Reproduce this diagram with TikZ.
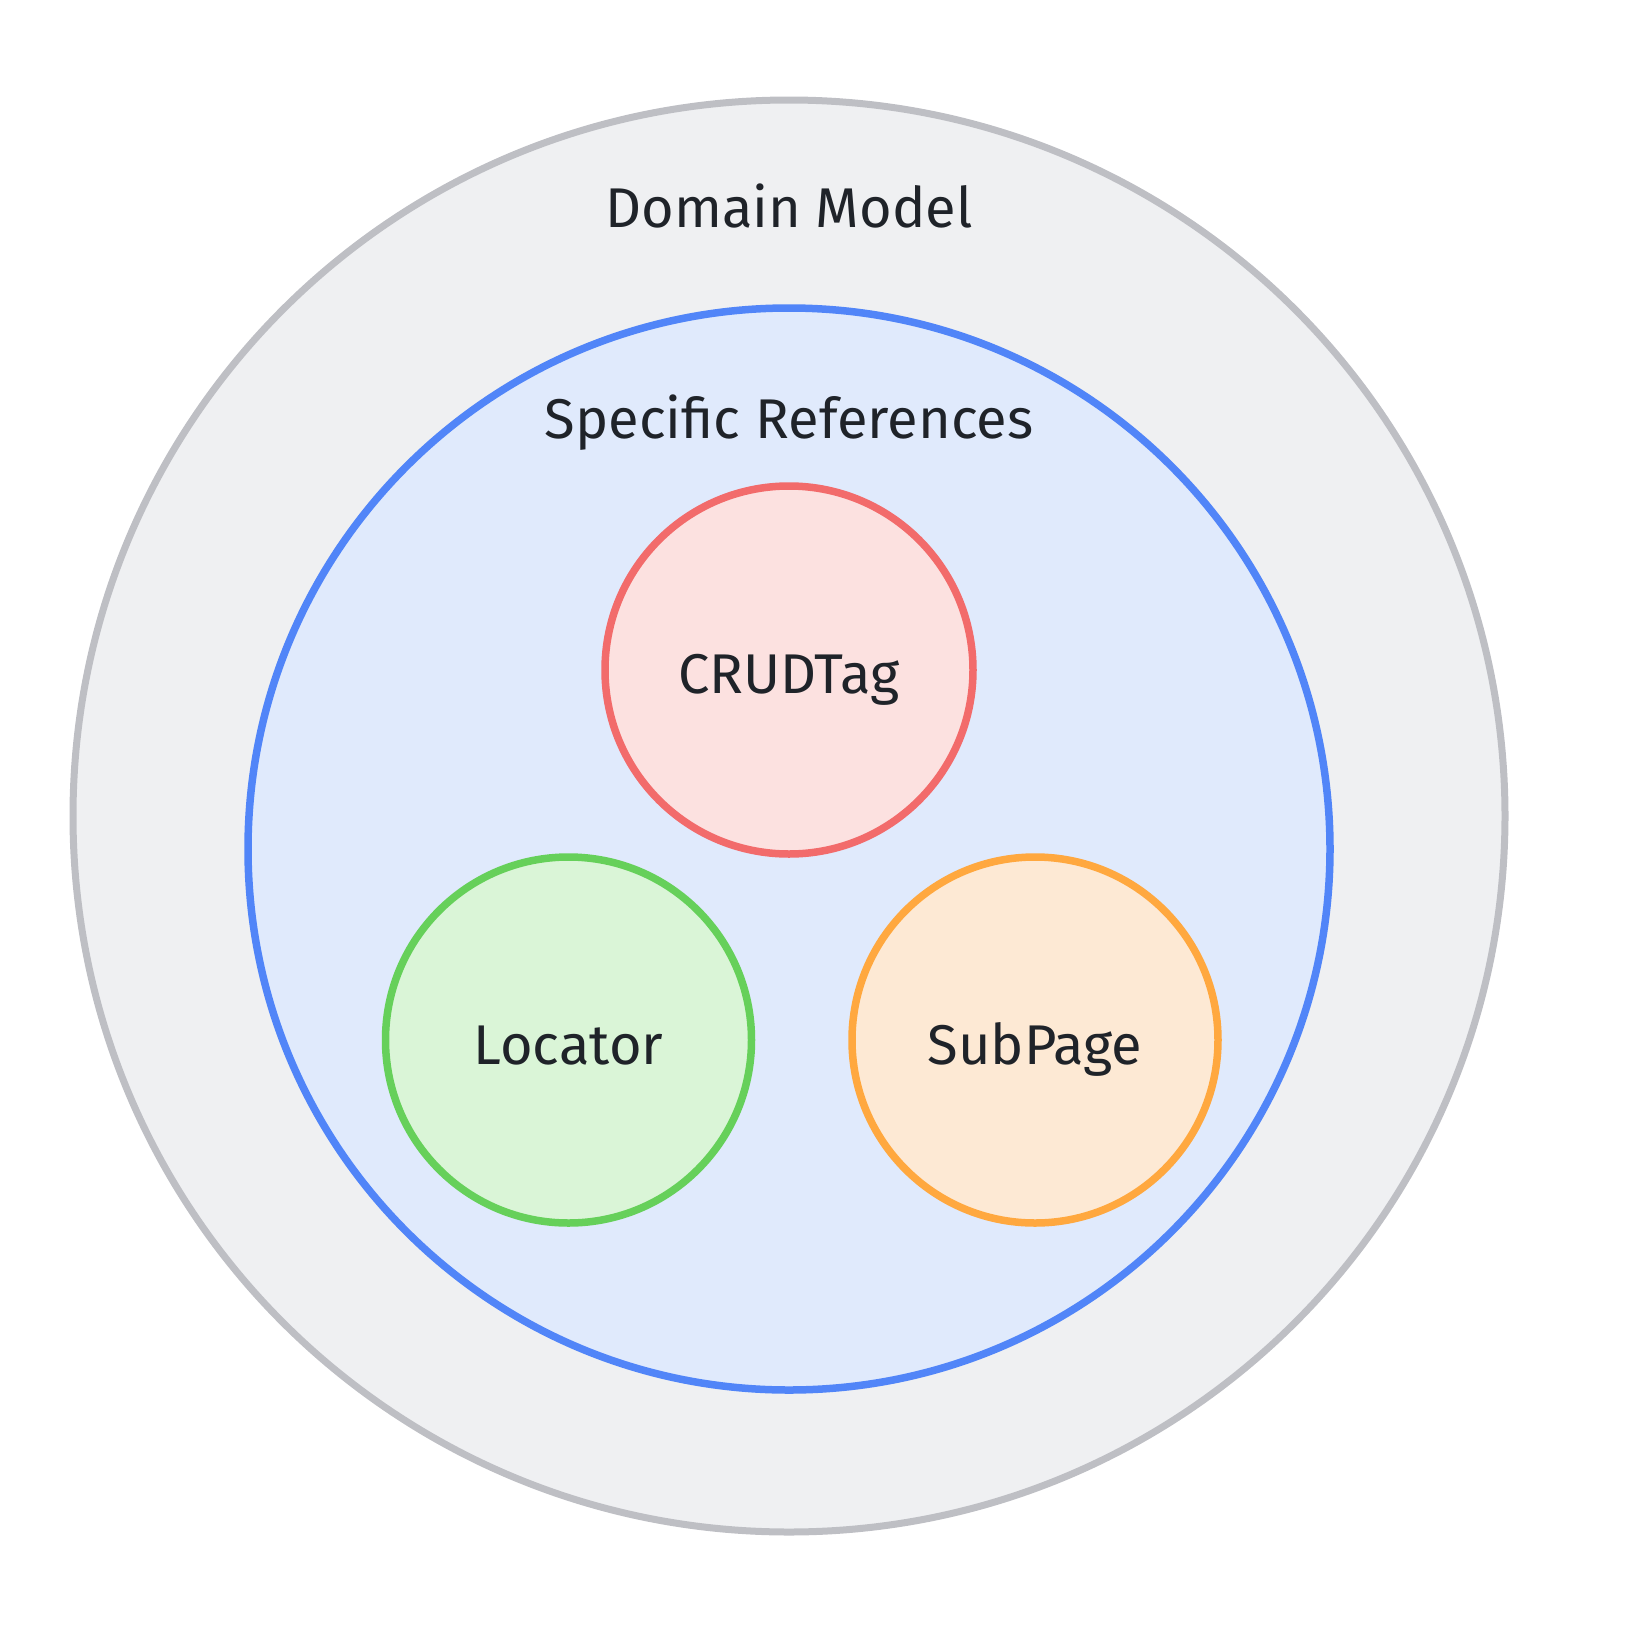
\documentclass[tikz,border=0pt]{standalone}
\usepackage{fontspec}
\setmainfont{Fira Sans}
\definecolor{txt}{HTML}{1F2329}
\definecolor{outerfill}{HTML}{EFF0F2}
\definecolor{outerdraw}{HTML}{BEBFC4}
\definecolor{bluefill}{HTML}{E0EAFC}
\definecolor{bluedraw}{HTML}{5185F8}
\definecolor{redfill}{HTML}{FCE1E0}
\definecolor{reddraw}{HTML}{F26B6B}
\definecolor{greenfill}{HTML}{DAF5D7}
\definecolor{greendraw}{HTML}{66D05A}
\definecolor{orangefill}{HTML}{FDE9D4}
\definecolor{orangedraw}{HTML}{FFA83F}
\tikzset{
  ring/.style={circle, line width=7.5pt, inner sep=0pt, minimum size=#1},
  lbl/.style={text=txt, font=\fontsize{56}{66}\selectfont, inner sep=0pt, anchor=base},
}
\begin{document}
\begin{tikzpicture}[x=1pt,y=-1pt]
\useasboundingbox (0,0) rectangle (1626,1628);
\node[ring=1432pt, draw=outerdraw, fill=outerfill, line width=7pt] (outer) at (789,816) {};
\node[ring=1082pt, draw=bluedraw, fill=bluefill] (inner) at (789,849) {};
\node[ring=368pt, draw=reddraw, fill=redfill] (crud) at (789,670) {};
\node[ring=366pt, draw=greendraw, fill=greenfill] (loc) at (568.5,1040) {};
\node[ring=366pt, draw=orangedraw, fill=orangefill] (sub) at (1035,1040) {};
\node[lbl] (tdm) at (789,227) {Domain Model};
\node[lbl] (tsr) at (789,438) {Specific References};
\node[lbl] (tcr) at (789,693) {CRUDTag};
\node[lbl] (tlo) at (568.5,1064) {Locator};
\node[lbl] (tsu) at (1035,1064) {SubPage};
\end{tikzpicture}
\end{document}
